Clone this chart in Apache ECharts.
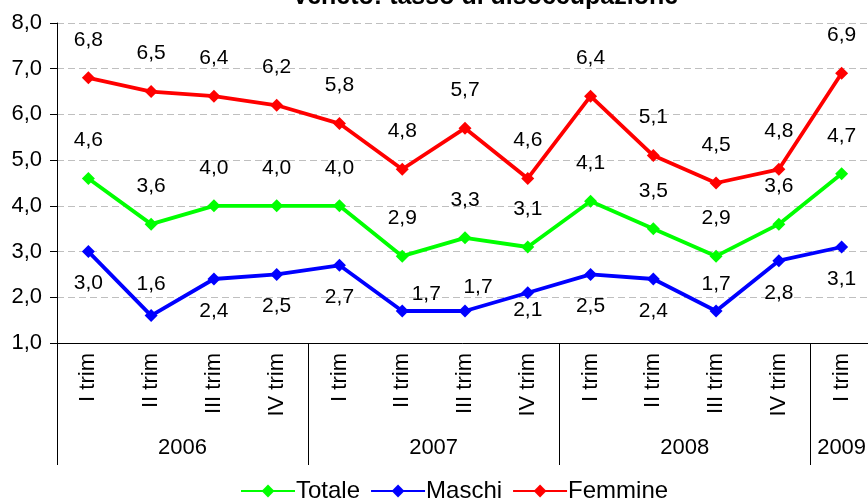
<!DOCTYPE html>
<html>
<head>
<meta charset="utf-8">
<script src="https://cdn.jsdelivr.net/npm/echarts@6/dist/echarts.min.js"></script>
<style>html,body{margin:0;padding:0;background:#fff}#c{width:868px;height:499px}</style>
</head>
<body>
<div id="c"></div>
<script>
const quarters = ['I trim','II trim','III trim','IV trim','I trim','II trim','III trim','IV trim','I trim','II trim','III trim','IV trim','I trim'];
const years = ['2006','2007','2008','2009'];
const yearSizes = [4, 4, 4, 1];
const totale  = [4.6, 3.6, 4.0, 4.0, 4.0, 2.9, 3.3, 3.1, 4.1, 3.5, 2.9, 3.6, 4.7];
const maschi  = [3.0, 1.6, 2.4, 2.5, 2.7, 1.7, 1.7, 2.1, 2.5, 2.4, 1.7, 2.8, 3.1];
const femmine = [6.8, 6.5, 6.4, 6.2, 5.8, 4.8, 5.7, 4.6, 6.4, 5.1, 4.5, 4.8, 6.9];
const yTicks = [1, 2, 3, 4, 5, 6, 7, 8];

const FONT = '"Liberation Sans", Arial, sans-serif';
const fmt = v => Number(v).toFixed(1).replace('.', ',');

// group boundaries and centers derived from year sizes
const bounds = [0]; const centers = [];
yearSizes.forEach((s, i) => { centers.push(bounds[i] + s / 2); bounds.push(bounds[i] + s); });

// label placement tweaks for Maschi (style only)
const maschiTweaks = {
  1: {position: 'top', distance: 14},
  5: {position: 'top', distance: 0, offset: [24, 0]},
  6: {position: 'top', distance: 7, offset: [13, 0]},
  7: {position: 'bottom', distance: 0},
  10: {position: 'top', distance: 10}
};

const labelBase = {show: true, fontFamily: FONT, fontSize: 21, color: '#000', formatter: p => fmt(p.value)};

function mkSeries(name, data, color, pos, dist, tweaks) {
  return {
    name, type: 'line', data: data.map((v, i) => {
      const t = tweaks && tweaks[i];
      return t ? {value: v, label: Object.assign({}, t)} : v;
    }),
    symbol: 'diamond', symbolSize: 13,
    lineStyle: {color, width: 3.8},
    itemStyle: {color},
    label: Object.assign({}, labelBase, {position: pos, distance: dist}),
    emphasis: {disabled: true},
    animation: false
  };
}

const chart = echarts.init(document.getElementById('c'), null, {renderer: 'canvas'});
chart.setOption({
  animation: false,
  backgroundColor: '#fff',
  title: {
    text: 'Veneto: tasso di disoccupazione',
    left: 485, textAlign: 'center', top: -15, padding: 0,
    textStyle: {fontFamily: FONT, fontSize: 25, fontWeight: 'bold', color: '#000'}
  },
  legend: {
    data: ['Totale', 'Maschi', 'Femmine'],
    left: 235, top: 474,
    itemWidth: 54, itemHeight: 16, itemGap: 10,
    textStyle: {fontFamily: FONT, fontSize: 24, color: '#000', padding: [0, 0, 0, -4]}
  },
  grid: {left: 57, right: -5, top: 23, bottom: 156, containLabel: false, outerBoundsMode: 'none'},
  xAxis: [{
    type: 'category', data: quarters, boundaryGap: true,
    axisLine: {show: true, lineStyle: {color: '#000', width: 1}},
    axisTick: {show: false},
    axisLabel: {rotate: 90, margin: 10, fontFamily: FONT, fontSize: 22, color: '#000', interval: 0}
  }, {
    type: 'value', min: 0, max: bounds[bounds.length - 1], position: 'bottom',
    axisLine: {show: false}, splitLine: {show: false},
    axisTick: {show: true, customValues: bounds, length: 122, inside: false, lineStyle: {color: '#000', width: 1}},
    axisLabel: {
      show: true, customValues: centers, margin: 94, fontFamily: FONT, fontSize: 22, color: '#000',
      formatter: v => { const i = centers.findIndex(c => Math.abs(c - v) < 1e-6); return i >= 0 ? years[i] : ''; }
    }
  }],
  yAxis: {
    type: 'value', min: yTicks[0], max: yTicks[yTicks.length - 1], interval: 1,
    axisLine: {show: true, lineStyle: {color: '#000', width: 1}},
    axisTick: {show: true, length: 7, lineStyle: {color: '#000'}},
    axisLabel: {formatter: fmt, fontFamily: FONT, fontSize: 22, color: '#000', margin: 15},
    splitLine: {show: true, lineStyle: {color: '#BFBFBF', width: 1, type: [7, 4]}}
  },
  series: [
    mkSeries('Totale', totale, '#00FF00', 'top', 21),
    mkSeries('Maschi', maschi, '#0000FF', 'bottom', 15, maschiTweaks),
    mkSeries('Femmine', femmine, '#FF0000', 'top', 21)
  ]
});
</script>
</body>
</html>
